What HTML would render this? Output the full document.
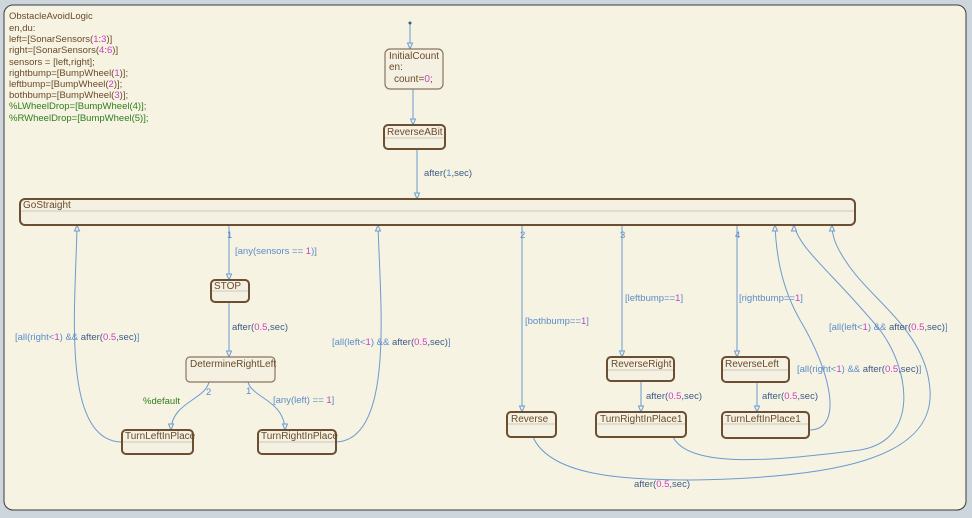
<!DOCTYPE html>
<html><head><style>
html,body{margin:0;padding:0;background:#cdd5dd;}
svg{display:block;font-family:"Liberation Sans",sans-serif;}
.st{fill:#f4f1e2;stroke:#6b4f32;stroke-width:2;}
.thin{fill:#f4f1e2;stroke:#8a7560;stroke-width:1.2;}
.dv{stroke:#cfc8b8;stroke-width:1;}
.sn{fill:#6b4a2a;font-size:10px;}
.ln{fill:none;stroke:#6b9bd2;stroke-width:1;}
.lb{fill:#5b8cc9;font-size:9.5px;}
.dk{fill:#3d5a86;}
.mg{fill:#c63fc6;}
.gr{fill:#2e7d1e;}
.ah{fill:#f4f1e2;stroke:#6b9bd2;stroke-width:1;}
</style></head><body>
<svg width="972" height="518" viewBox="0 0 972 518">
<rect x="0" y="0" width="972" height="518" fill="#cdd5dd"/>
<rect x="4" y="5" width="962" height="505" rx="9" fill="#f6f3e2" stroke="#3a3a3a" stroke-width="1"/>
<g font-size="9.5px" fill="#6b4a2a">
<text x="9" y="19">ObstacleAvoidLogic</text>
<text x="9" y="31">en,du:</text>
<text x="9" y="42">left=[SonarSensors(<tspan class="mg">1</tspan>:<tspan class="mg">3</tspan>)]</text>
<text x="9" y="53">right=[SonarSensors(<tspan class="mg">4</tspan>:<tspan class="mg">6</tspan>)]</text>
<text x="9" y="65">sensors = [left,right];</text>
<text x="9" y="76">rightbump=[BumpWheel(<tspan class="mg">1</tspan>)];</text>
<text x="9" y="87">leftbump=[BumpWheel(<tspan class="mg">2</tspan>)];</text>
<text x="9" y="98">bothbump=[BumpWheel(<tspan class="mg">3</tspan>)];</text>
<text x="9" y="109" class="gr">%LWheelDrop=[BumpWheel(4)];</text>
<text x="9" y="121" class="gr">%RWheelDrop=[BumpWheel(5)];</text>
</g>

<!-- connectors -->
<g class="ln">
<path d="M410 24 L410 49"/>
<path d="M413 89 L413 125"/>
<path d="M417 149 L417 199"/>
<path d="M229 225 L229 280"/>
<path d="M229 302 L229 357"/>
<path d="M209 382 C205 400 172 402 171 430"/>
<path d="M248 382 C252 398 284 400 285 430"/>
<path d="M121 442 C60 440 76 300 77 225"/>
<path d="M336 442 C395 440 380 300 378 225"/>
<path d="M522 225 L522 412"/>
<path d="M622 225 L622 357"/>
<path d="M737 225 L737 357"/>
<path d="M641 381 L641 412"/>
<path d="M757 382 L757 412"/>
<path d="M809 430 C845 430 830 370 800 320 C780 285 776 250 775 225"/>
<path d="M673 437 C690 470 780 460 860 450 C920 440 910 370 880 330 C830 270 800 250 794 225"/>
<path d="M533 437 C550 475 620 480 690 480 C830 478 935 460 930 390 C926 330 870 300 845 260 C835 245 832 235 832 225"/>
</g>
<circle cx="410" cy="23" r="1.5" fill="#3d5a86"/>
<g class="ah">
<path d="M407.5 43 L412.5 43 L410 49Z"/>
<path d="M410.5 119 L415.5 119 L413 125Z"/>
<path d="M414.5 193 L419.5 193 L417 199Z"/>
<path d="M226.5 274 L231.5 274 L229 280Z"/>
<path d="M226.5 351 L231.5 351 L229 357Z"/>
<path d="M168.5 424 L173.5 424 L171 430Z"/>
<path d="M282.5 424 L287.5 424 L285 430Z"/>
<path d="M519.5 406 L524.5 406 L522 412Z"/>
<path d="M619.5 351 L624.5 351 L622 357Z"/>
<path d="M734.5 351 L739.5 351 L737 357Z"/>
<path d="M638.5 406 L643.5 406 L641 412Z"/>
<path d="M754.5 406 L759.5 406 L757 412Z"/>
<path d="M74.5 231 L79.5 231 L77 225Z"/>
<path d="M375.5 231 L380.5 231 L378 225Z"/>
<path d="M772.5 231 L777.5 231 L775 225Z"/>
<path d="M791.5 231 L796.5 231 L794 225Z"/>
<path d="M829.5 231 L834.5 231 L832 225Z"/>
</g>

<!-- states -->
<rect class="thin" x="385" y="49" width="58" height="40" rx="5"/>
<text class="sn" x="389" y="59">InitialCount</text>
<text class="sn" x="389" y="70">en:</text>
<text class="sn" x="394" y="82">count=<tspan class="mg">0</tspan>;</text>

<g>
<rect class="st" x="384" y="125" width="61" height="24" rx="4"/><line class="dv" x1="385" y1="138" x2="444" y2="138"/>
<text class="sn" x="387" y="135">ReverseABit</text>
<rect class="st" x="20" y="199" width="835" height="26" rx="5"/><line class="dv" x1="21" y1="211" x2="854" y2="211"/>
<text class="sn" x="23" y="208">GoStraight</text>
<rect class="st" x="211" y="280" width="38" height="22" rx="4"/><line class="dv" x1="212" y1="291" x2="248" y2="291"/>
<text class="sn" x="214" y="289">STOP</text>
<rect class="thin" x="186" y="357" width="89" height="25" rx="4"/>
<text class="sn" x="190" y="367">DetermineRightLeft</text>
<rect class="st" x="122" y="430" width="71" height="24" rx="4"/><line class="dv" x1="123" y1="442" x2="192" y2="442"/>
<text class="sn" x="125" y="439">TurnLeftInPlace</text>
<rect class="st" x="258" y="430" width="78" height="24" rx="4"/><line class="dv" x1="259" y1="442" x2="335" y2="442"/>
<text class="sn" x="261" y="439">TurnRightInPlace</text>
<rect class="st" x="507" y="412" width="49" height="25" rx="4"/><line class="dv" x1="508" y1="424" x2="555" y2="424"/>
<text class="sn" x="511" y="422">Reverse</text>
<rect class="st" x="607" y="357" width="67" height="24" rx="4"/><line class="dv" x1="608" y1="370" x2="673" y2="370"/>
<text class="sn" x="611" y="367">ReverseRight</text>
<rect class="st" x="596" y="412" width="90" height="25" rx="4"/><line class="dv" x1="597" y1="424" x2="685" y2="424"/>
<text class="sn" x="600" y="422">TurnRightInPlace1</text>
<rect class="st" x="722" y="357" width="67" height="25" rx="4"/><line class="dv" x1="723" y1="370" x2="788" y2="370"/>
<text class="sn" x="725" y="367">ReverseLeft</text>
<rect class="st" x="722" y="412" width="87" height="26" rx="4"/><line class="dv" x1="723" y1="424" x2="808" y2="424"/>
<text class="sn" x="725" y="422">TurnLeftInPlace1</text>
</g>

<!-- labels -->
<g class="lb">
<text x="424" y="176" class="dk">after(<tspan class="lb">1</tspan>,sec)</text>
<text x="227" y="238">1</text>
<text x="235" y="254">[any(sensors == <tspan class="mg">1</tspan>)]</text>
<text x="232" y="330" class="dk">after(<tspan class="mg">0.5</tspan>,sec)</text>
<text x="206" y="395">2</text>
<text x="143" y="404" class="gr">%default</text>
<text x="246" y="394">1</text>
<text x="273" y="403">[any(left) == <tspan class="mg">1</tspan>]</text>
<text x="15" y="340">[all(right&lt;<tspan class="mg">1</tspan>) &amp;&amp; <tspan class="dk">after(</tspan><tspan class="mg">0.5</tspan><tspan class="dk">,sec)</tspan>]</text>
<text x="332" y="345">[all(left&lt;<tspan class="mg">1</tspan>) &amp;&amp; <tspan class="dk">after(</tspan><tspan class="mg">0.5</tspan><tspan class="dk">,sec)</tspan>]</text>
<text x="520" y="238">2</text>
<text x="525" y="324">[bothbump==<tspan class="mg">1</tspan>]</text>
<text x="620" y="238">3</text>
<text x="625" y="301">[leftbump==<tspan class="mg">1</tspan>]</text>
<text x="735" y="238">4</text>
<text x="739" y="301">[rightbump==<tspan class="mg">1</tspan>]</text>
<text x="646" y="399" class="dk">after(<tspan class="mg">0.5</tspan>,sec)</text>
<text x="762" y="399" class="dk">after(<tspan class="mg">0.5</tspan>,sec)</text>
<text x="797" y="372">[all(right&lt;<tspan class="mg">1</tspan>) &amp;&amp; <tspan class="dk">after(</tspan><tspan class="mg">0.5</tspan><tspan class="dk">,sec)</tspan>]</text>
<text x="829" y="330">[all(left&lt;<tspan class="mg">1</tspan>) &amp;&amp; <tspan class="dk">after(</tspan><tspan class="mg">0.5</tspan><tspan class="dk">,sec)</tspan>]</text>
<text x="634" y="487" class="dk">after(<tspan class="mg">0.5</tspan>,sec)</text>
</g>
</svg>
</body></html>
